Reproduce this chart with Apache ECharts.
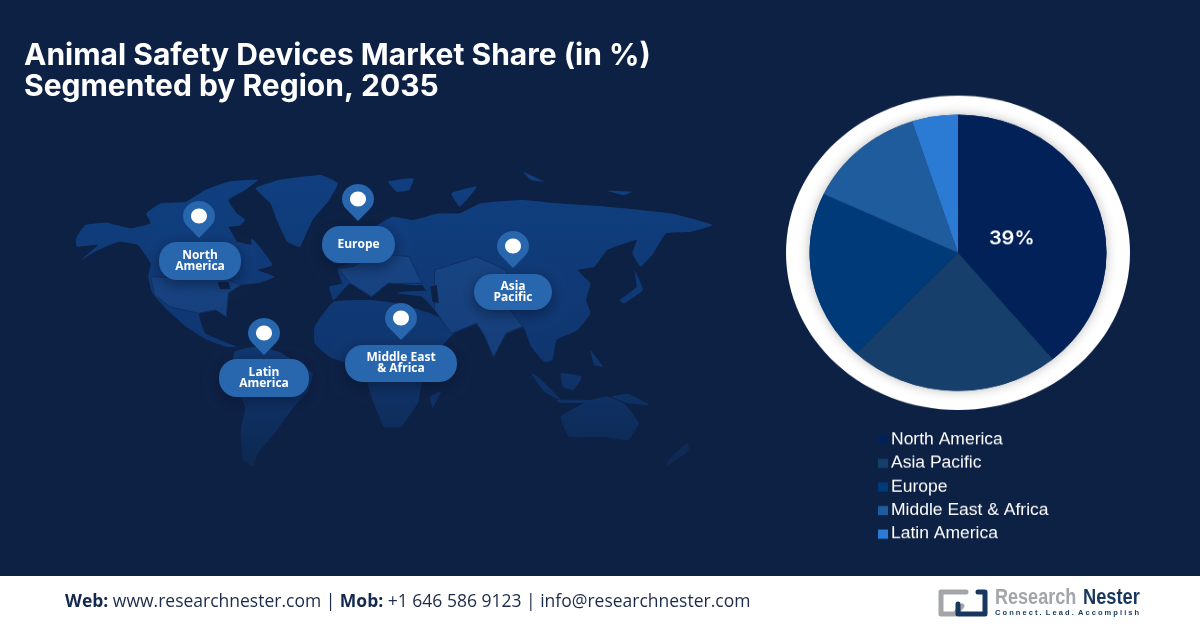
<!DOCTYPE html>
<html>
<head>
<meta charset="utf-8">
<style>
html,body{margin:0;padding:0;background:#0d2145;overflow:hidden}
#main{position:absolute;left:0;top:0;width:1200px;height:628px}
#pie{position:absolute;left:770px;top:90px;width:380px;height:500px;transform:scale(1,0.93);transform-origin:0 0}
</style>
<script src="https://cdn.jsdelivr.net/npm/echarts@6/dist/echarts.min.js"></script>
</head>
<body>
<div id="main"></div>
<div id="pie"></div>
<script>
var regions = ['North America','Asia Pacific','Europe','Middle East & Africa','Latin America'];
var shares = [39,23,20,13,5];
var regionColors = ['#012158','#163f6b','#003a78','#1f5c9e','#2b7bd4'];

// pin tip x,y and pill box for each label on the map
var pins = [
	{text:'North\nAmerica',x:199,y:238,box:[159,242,82,38]},
	{text:'Europe',x:358,y:221,box:[322,226,73,37]},
	{text:'Asia\nPacific',x:513,y:268,box:[474,274,78,36]},
	{text:'Latin\nAmerica',x:264,y:355,box:[219,359,90,38]},
	{text:'Middle East\n& Africa',x:401,y:340,box:[345,345,112,37]}
];

// rough land outlines, traced on a 1568x930 crop of the map area
var land = [
	[38,205,60,165,110,158,170,175,215,160,205,130,240,100,300,95,345,60,400,35,470,30,440,60,400,90,420,130,440,150,410,190,460,210,505,285,470,300,510,320,470,340,430,345,400,370,395,440,370,420,330,430,345,490,380,510,420,530,395,530,350,510,300,470,255,420,220,370,210,320,215,280,185,225,140,215,90,240,50,270,90,225,40,230],
	[465,55,520,30,620,15,660,40,640,90,600,150,570,230,540,215,515,150,500,100],
	[415,545,460,530,520,545,600,610,590,660,550,720,510,790,470,850,460,890,435,870,430,780,440,710,410,640,410,580],
	[640,350,670,340,660,300,700,290,745,250,760,190,750,170,790,140,840,150,900,130,950,130,1000,100,1100,90,1180,100,1300,110,1450,130,1550,165,1500,185,1440,190,1410,250,1380,290,1360,250,1370,210,1300,240,1270,290,1230,300,1260,340,1250,390,1260,430,1230,480,1180,510,1170,570,1150,575,1120,530,1100,470,1060,490,1030,560,1010,500,990,460,930,490,890,420,860,380,800,370,860,350,780,340,740,380,690,340,650,390],
	[605,470,650,395,740,390,800,400,880,430,945,475,890,550,860,640,850,700,810,770,770,770,740,680,720,600,640,560,605,520],
	[880,680,905,665,885,715],
	[1190,740,1260,690,1300,680,1340,700,1375,760,1350,810,1290,800,1210,800],
	[1120,610,1140,625,1190,690,1150,665],
	[1190,610,1240,620,1220,660,1195,650],
	[1310,680,1350,672,1400,705,1350,700],
	[1180,690,1260,690,1260,698,1185,698],
	[1365,300,1385,360,1340,400,1330,390,1370,350],
	[1490,820,1495,840,1440,890,1445,870],
	[1260,540,1290,590,1270,585],
	[640,240,665,235,680,270,650,280],
	[780,35,840,25,830,60,800,65],
	[930,70,990,50,950,110],
	[1100,5,1150,35,1120,30],
	[1300,62,1360,65,1340,75]
];
// lighter tint over the USA and central Asia / India
var tinted = [
	[215,320,400,330,430,345,400,370,395,440,370,420,330,430,260,410,225,375],
	[890,300,990,260,1060,300,1070,420,1100,470,1060,490,1030,560,1010,500,990,460,930,490,890,420],
	[660,295,745,250,830,260,860,340,780,340,740,380,690,340]
];
// seas cut out of the land
var seas = [
	[400,170,450,165,455,225,420,215],
	[800,352,860,345,870,362,810,365],
	[880,350,895,345,900,400,885,395],
	[375,335,400,335,405,358,380,358]
];

function toPoints(arr){
	var pts=[];
	for(var i=0;i<arr.length;i+=2){
		pts.push([60+arr[i]/2.376,170+arr[i+1]/3]);
	}
	return pts;
}

function pinPoints(x,y){
	var pts=[[x,y]];
	// round head of the pin, then back down to the tip
	for(var a=-135;a<=135;a+=15){
		var rad=a*Math.PI/180;
		pts.push([x+16*Math.sin(rad),y-22-15*Math.cos(rad)]);
	}
	return pts;
}

var landFill = new echarts.graphic.LinearGradient(0,170,0,470,[
	{offset:0,color:'#103f80'},{offset:0.6,color:'#0f3670'},{offset:1,color:'#0d2850'}
],true);

var elements = [];
land.forEach(function(a){
	elements.push({type:'polygon',shape:{points:toPoints(a),smooth:0.12},style:{fill:landFill}});
});
tinted.forEach(function(a){
	elements.push({type:'polygon',shape:{points:toPoints(a)},style:{fill:'rgba(70,120,190,0.15)',stroke:'#0f2f63',lineWidth:1}});
});
seas.forEach(function(a){
	elements.push({type:'polygon',shape:{points:toPoints(a)},style:{fill:'#0d2145'}});
});

pins.forEach(function(p){
	elements.push({type:'rect',shape:{x:p.box[0],y:p.box[1],width:p.box[2],height:p.box[3],r:18},
		style:{fill:'#2866ae',shadowBlur:14,shadowColor:'rgba(5,15,40,0.55)',shadowOffsetY:4}});
	elements.push({type:'text',x:p.box[0]+p.box[2]/2,y:p.box[1]+p.box[3]/2,
		style:{text:p.text,fill:'#fff',font:'bold 12px "Open Sans"',lineHeight:11,align:'center',verticalAlign:'middle'}});
	elements.push({type:'polygon',shape:{points:pinPoints(p.x,p.y)},style:{fill:'#2866ae'}});
	elements.push({type:'ellipse',shape:{cx:p.x,cy:p.y-22,rx:8,ry:7.5},style:{fill:'#fff'}});
});

// footer
elements.push({type:'rect',shape:{x:0,y:576,width:1200,height:52},style:{fill:'#fff'}});
elements.push({type:'text',x:65,y:602,style:{
	text:'{b|Web:} www.researchnester.com | {b|Mob:} +1 646 586 9123 | info@researchnester.com',
	font:'17.5px "Open Sans"',fill:'#1c2b4a',verticalAlign:'middle',
	rich:{b:{font:'bold 17.5px "Open Sans"',fill:'#14284f'}}
}});
elements.push({type:'polyline',shape:{points:[[966,592],[941,592],[941,614],[955,614],[962,606]]},
	style:{fill:'none',stroke:'#a3a5a8',lineWidth:5,lineJoin:'round',lineCap:'round'}});
elements.push({type:'polyline',shape:{points:[[978,592],[985,592],[985,614],[958,614],[958,604]]},
	style:{fill:'none',stroke:'#17375e',lineWidth:5,lineJoin:'round',lineCap:'round'}});
elements.push({type:'text',x:995,y:598,scaleX:0.82,style:{text:'Research',font:'bold 22px "Liberation Sans"',fill:'#a3a5a8',verticalAlign:'middle'}});
elements.push({type:'text',x:1083,y:598,scaleX:0.83,style:{text:'Nester',font:'bold 22px "Liberation Sans"',fill:'#17375e',verticalAlign:'middle'}});
elements.push({type:'text',x:995,y:613,style:{text:'C o n n e c t .  L e a d .  A c c o m p l i s h',font:'bold 7.5px "Liberation Sans"',fill:'#17375e',verticalAlign:'middle'}});

var mainChart = echarts.init(document.getElementById('main'));
mainChart.setOption({
	backgroundColor:'#0d2145',
	title:{
		text:'Animal Safety Devices Market Share (in %)\nSegmented by Region, 2035',
		left:24,top:40,padding:0,
		textStyle:{color:'#fff',fontFamily:'Inter',fontWeight:700,fontSize:30,lineHeight:31}
	},
	graphic:{elements:elements}
});

var pieData = regions.map(function(name,i){
	return {
		name:name,value:shares[i],itemStyle:{color:regionColors[i]},
		label:{show:i==0}
	};
});

var pieChart = echarts.init(document.getElementById('pie'));
pieChart.setOption({
	legend:{
		orient:'vertical',left:103,top:361,height:140,
		data:regions,itemWidth:10,itemHeight:10,itemGap:5.4,icon:'rect',selectedMode:false,
		textStyle:{color:'#fff',fontFamily:'Liberation Sans',fontSize:17.5,lineHeight:20,padding:[0,0,0,-2]}
	},
	graphic:{elements:[
		{type:'ellipse',shape:{cx:188,cy:175,rx:172,ry:169},style:{fill:'#fff'}},
		{type:'circle',shape:{cx:188,cy:175,r:148.5},style:{fill:'#103060',shadowBlur:12,shadowColor:'rgba(0,0,0,0.28)'}}
	]},
	series:[{
		type:'pie',center:[188,175],radius:[0,148.5],startAngle:90,clockwise:true,
		silent:true,animation:false,
		data:pieData,
		label:{position:'inside',formatter:'{c}%',color:'#fff',fontFamily:'Inter',fontWeight:600,fontSize:20},
		labelLine:{show:false},
		labelLayout:function(params){
			return {dx:-19,dy:11};
		}
	}]
});
</script>
</body>
</html>
